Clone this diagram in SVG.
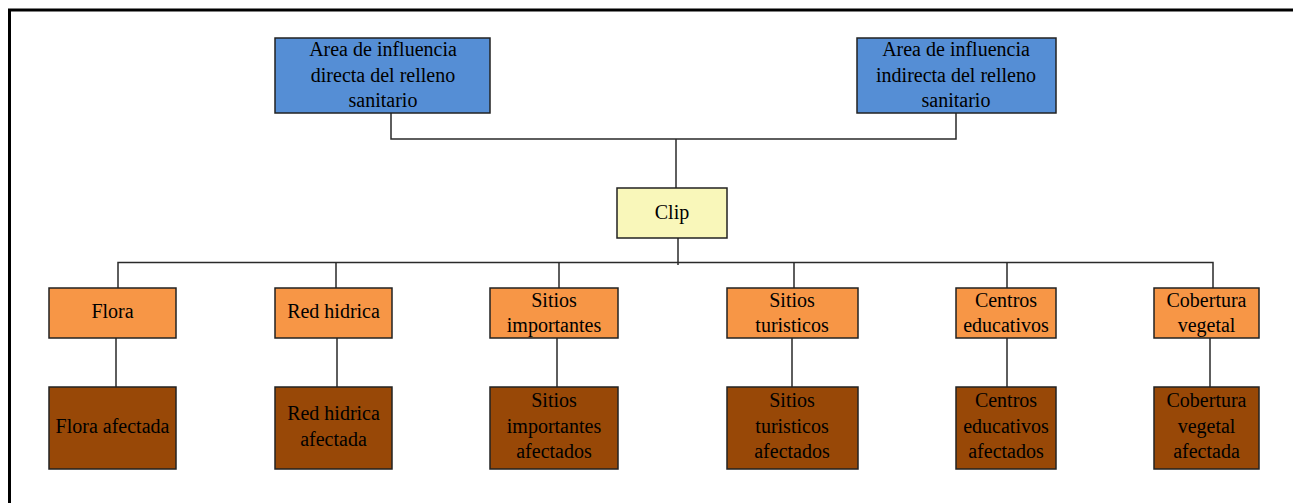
<svg xmlns="http://www.w3.org/2000/svg" width="1293" height="503" viewBox="0 0 1293 503">
<style>
text{font-family:"Liberation Serif","Times New Roman",serif;font-size:20px;fill:#000;text-anchor:middle}
.b{stroke:#222;stroke-width:1.5}
.blue{fill:#558ED5}
.yel{fill:#F9F7BA}
.org{fill:#F79646}
.brn{fill:#984807}
.c{fill:none;stroke:#2a2a2a;stroke-width:1.5}
</style>
<rect width="1293" height="503" fill="#fff"/>
<path d="M9.5 503V10H1293" fill="none" stroke="#000" stroke-width="3"/>
<g id="connectors">
<path class="c" d="M391 113V139H956V113"/>
<path class="c" d="M676 139V188"/>
<path class="c" d="M678 238V265"/>
<path class="c" d="M118 288V262.5H1213V288"/>
<path class="c" d="M336 262.5V288M559 262.5V288M794 262.5V288M1007 262.5V288"/>
<path class="c" d="M116 338V387M337 338V387M557 338V387M792 338V387M1007 338V387M1210 338V387"/>
</g>
<g id="n-directa"><rect class="b blue" x="275" y="38" width="215" height="75"/><text x="383" y="56">Area de influencia</text><text x="383" y="82">directa del relleno</text><text x="383" y="107">sanitario</text></g>
<g id="n-indirecta"><rect class="b blue" x="857" y="38" width="199" height="75"/><text x="956" y="56">Area de influencia</text><text x="956" y="82">indirecta del relleno</text><text x="956" y="107">sanitario</text></g>
<g id="n-clip"><rect class="b yel" x="617" y="188" width="110" height="50"/><text x="672" y="219">Clip</text></g>
<g id="n-flora"><rect class="b org" x="49" y="288" width="127" height="50"/><text x="112.5" y="318">Flora</text></g>
<g id="n-red"><rect class="b org" x="275" y="288" width="117" height="50"/><text x="333.5" y="318">Red hidrica</text></g>
<g id="n-sitios-imp"><rect class="b org" x="490" y="288" width="128" height="50"/><text x="554" y="307">Sitios</text><text x="554" y="332">importantes</text></g>
<g id="n-sitios-tur"><rect class="b org" x="727" y="288" width="131" height="50"/><text x="792" y="307">Sitios</text><text x="792" y="332">turisticos</text></g>
<g id="n-centros"><rect class="b org" x="956" y="288" width="100" height="50"/><text x="1006" y="307">Centros</text><text x="1006" y="332">educativos</text></g>
<g id="n-cobertura"><rect class="b org" x="1154" y="288" width="105" height="50"/><text x="1206.5" y="307">Cobertura</text><text x="1206.5" y="332">vegetal</text></g>
<g id="n-flora-af"><rect class="b brn" x="49" y="387" width="127" height="82"/><text x="112.5" y="433">Flora afectada</text></g>
<g id="n-red-af"><rect class="b brn" x="275" y="387" width="117" height="82"/><text x="333.5" y="420">Red hidrica</text><text x="333.5" y="446">afectada</text></g>
<g id="n-sitios-imp-af"><rect class="b brn" x="490" y="387" width="128" height="82"/><text x="554" y="407">Sitios</text><text x="554" y="433">importantes</text><text x="554" y="458">afectados</text></g>
<g id="n-sitios-tur-af"><rect class="b brn" x="727" y="387" width="131" height="82"/><text x="792" y="407">Sitios</text><text x="792" y="433">turisticos</text><text x="792" y="458">afectados</text></g>
<g id="n-centros-af"><rect class="b brn" x="956" y="387" width="100" height="82"/><text x="1006" y="407">Centros</text><text x="1006" y="433">educativos</text><text x="1006" y="458">afectados</text></g>
<g id="n-cobertura-af"><rect class="b brn" x="1154" y="387" width="105" height="82"/><text x="1206.5" y="407">Cobertura</text><text x="1206.5" y="433">vegetal</text><text x="1206.5" y="458">afectada</text></g>
</svg>
